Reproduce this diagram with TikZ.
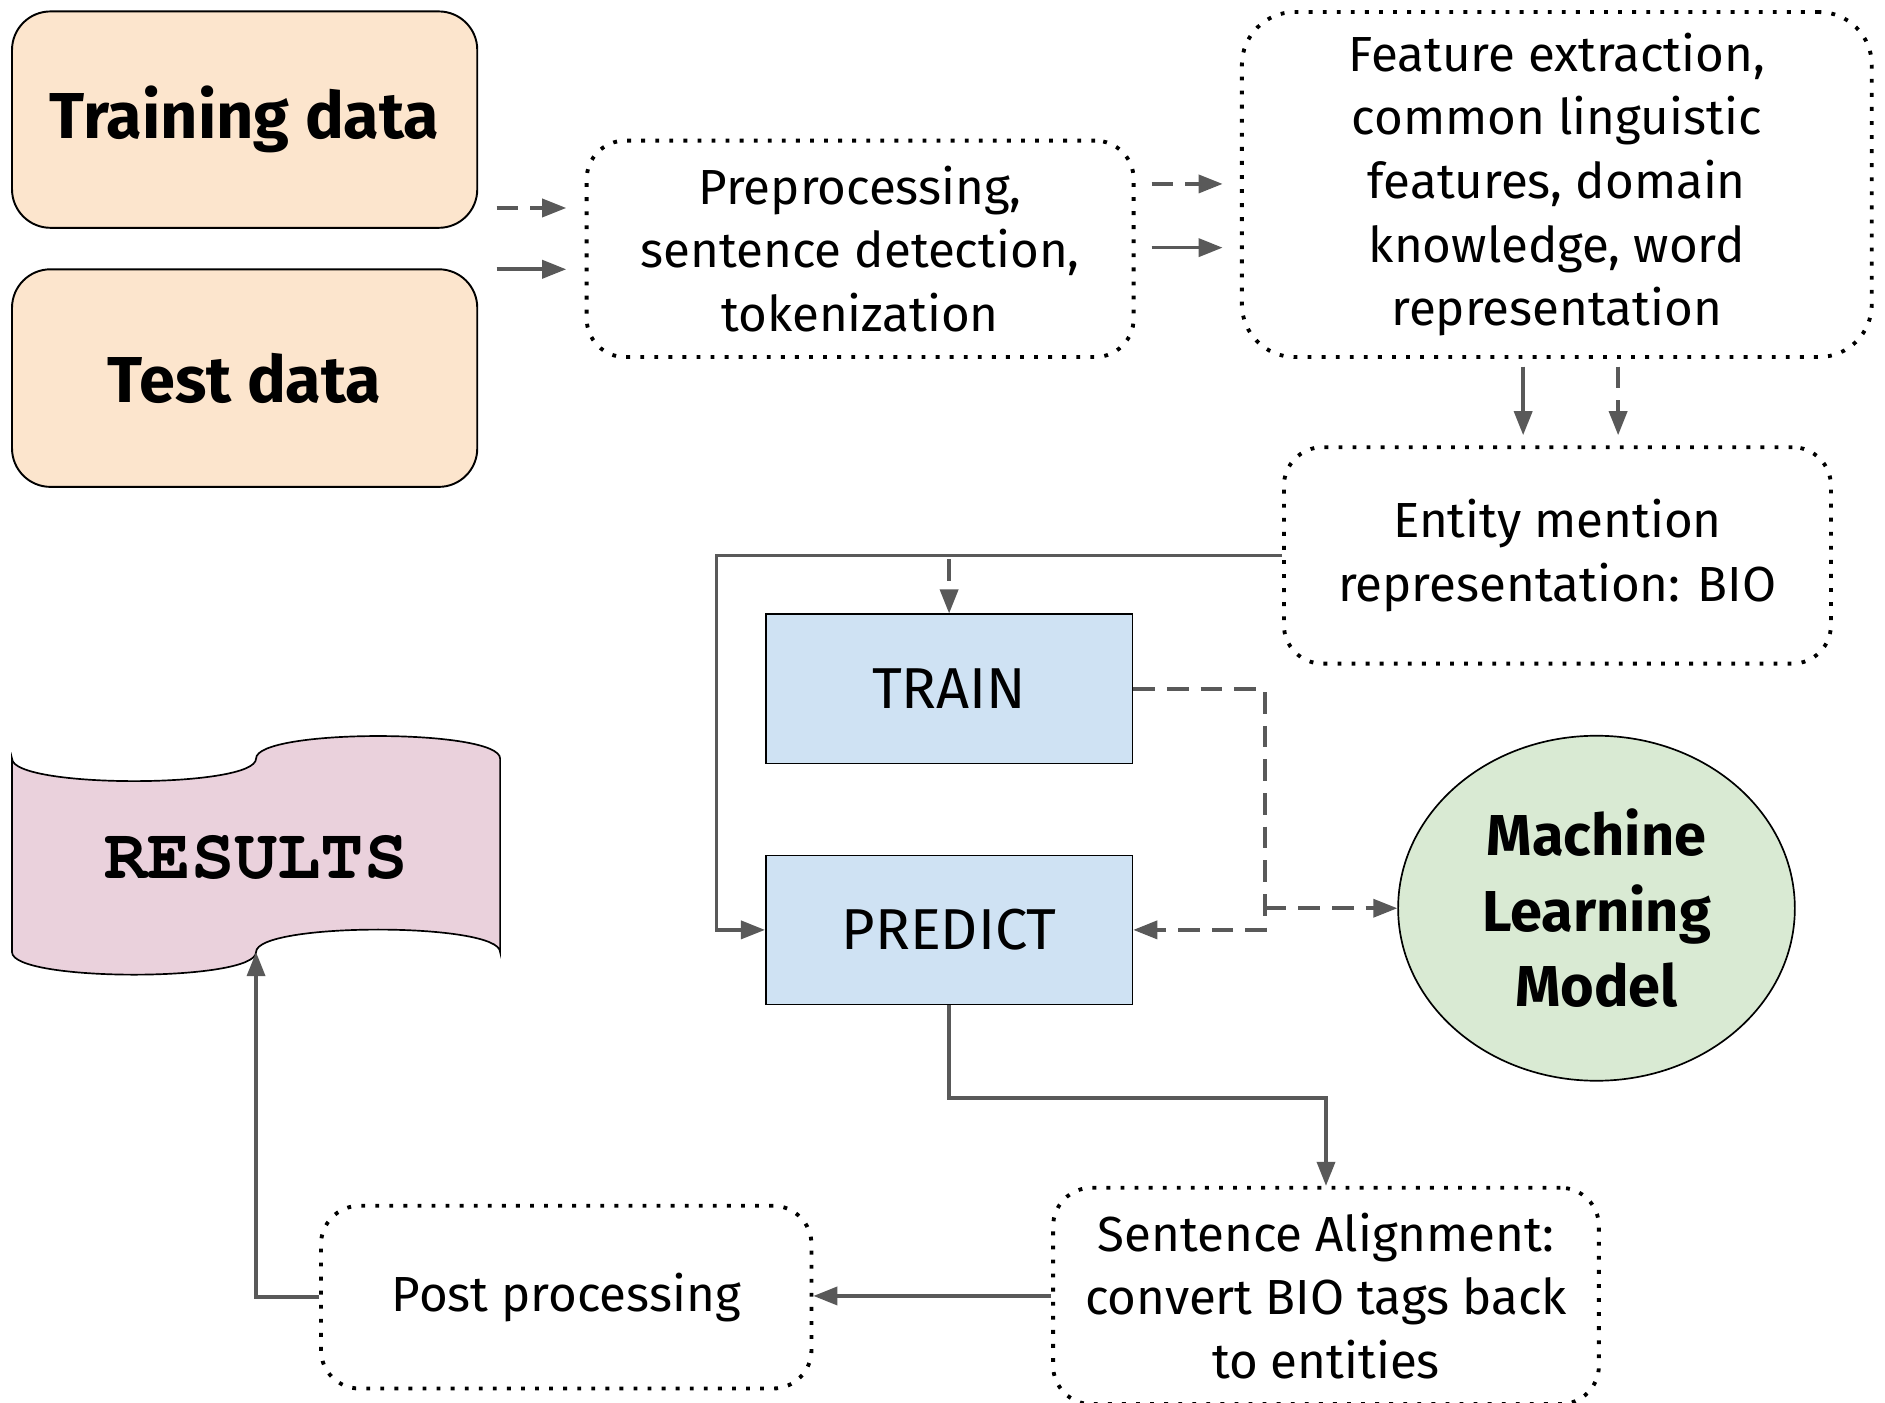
\documentclass[tikz,border=0pt]{standalone}
\usepackage{fontspec}
\setmainfont{Fira Sans}
\newfontfamily\resfont{texgyrecursor-bold.otf}
\usetikzlibrary{arrows.meta,shapes.geometric,calc}
\definecolor{peach}{HTML}{FCE5CD}
\definecolor{lblue}{HTML}{CFE2F3}
\definecolor{lgreen}{HTML}{D9EAD3}
\definecolor{lpink}{HTML}{EAD1DC}
\definecolor{arrowgray}{HTML}{595959}
\tikzset{
  databox/.style={draw=black, line width=0.8pt, fill=peach, rounded corners=16pt,
    minimum width=193.5pt, minimum height=90pt, inner sep=0pt,
    font=\fontsize{27}{32}\selectfont\bfseries},
  dotbox/.style={draw=black, line width=1.6pt, dash pattern=on 1.6pt off 4.25pt,
    rounded corners=16pt, align=center, inner sep=0pt,
    font=\fontsize{20.5}{26.5}\selectfont},
  procbox/.style={draw=black, line width=0.7pt, fill=lblue, minimum width=152.5pt,
    minimum height=62pt, inner sep=0pt, font=\fontsize{24}{28}\selectfont},
  link/.style={draw=arrowgray, line width=1.5pt, -{Triangle[length=10pt,width=7.5pt]}},
  dashline/.style={dash pattern=on 9pt off 5pt},
}
\begin{document}
\begin{tikzpicture}[x=0.5pt,y=-0.5pt]
\useasboundingbox (0,0) rectangle (1568,1167);
\fill[white] (0,0) rectangle (1568,1167);

% nodes
\node[databox] (train) at (203.5,99.5) {Training data};
\node[databox, minimum height=90.5pt] (test) at (203.5,314.5) {Test data};
\node[dotbox, minimum width=227.5pt, minimum height=90pt] (prep) at (715.5,207)
  {Preprocessing,\\sentence detection,\\tokenization};
\node[dotbox, minimum width=262pt, minimum height=143.5pt, rounded corners=22pt] (feat) at (1295,153.5)
  {Feature extraction,\\common linguistic\\features, domain\\knowledge, word\\representation};
\node[dotbox, minimum width=227.5pt, minimum height=90pt] (ent) at (1295.5,462)
  {Entity mention\\representation: BIO};
\node[procbox] (tr) at (789.5,573) {TRAIN};
\node[procbox] (pr) at (789.5,773.5) {PREDICT};
\node[ellipse, draw=black, line width=0.7pt, fill=lgreen, minimum width=165pt,
  minimum height=143.5pt, inner sep=0pt, align=center,
  font=\fontsize{24}{31.5}\selectfont\bfseries] (ml) at (1328,755.5) {Machine\\Learning\\Model};
\node[dotbox, minimum width=227pt, minimum height=90pt] (sent) at (1103,1078)
  {Sentence Alignment:\\convert BIO tags back\\to entities};
\node[dotbox, minimum width=204pt, minimum height=76pt] (post) at (471,1079) {Post processing};

% results tape
\draw[fill=lpink, line width=0.7pt] (10,631) .. controls (10,656) and (213,656) .. (213,631)
  .. controls (213,606) and (416,606) .. (416,631) -- (416,792)
  .. controls (416,767) and (213,767) .. (213,792)
  .. controls (213,817) and (10,817) .. (10,792) -- cycle;
\node[font=\resfont\fontsize{30}{34}\selectfont] (res) at (213,713) {RESULTS};
\coordinate (resb) at (213,792);

% free arrows
\coordinate (a1s) at (413,173); \coordinate (a1e) at (471,173);
\coordinate (a2s) at (413,224); \coordinate (a2e) at (471,224);
\coordinate (b1s) at (958,153); \coordinate (b1e) at (1017,153);
\coordinate (b2s) at (958,206); \coordinate (b2e) at (1017,206);
\coordinate (c1s) at (1267,305); \coordinate (c1e) at (1267,362);
\coordinate (c2s) at (1346,305); \coordinate (c2e) at (1346,362);
\draw[link, dashline] (a1s) -- (a1e);
\draw[link] (a2s) -- (a2e);
\draw[link, dashline] (b1s) -- (b1e);
\draw[link] (b2s) -- (b2e);
\draw[link] (c1s) -- (c1e);
\draw[link, dashline] (c2s) -- (c2e);

% main connectors
\coordinate (jl) at (596,0);
\coordinate (jr) at (1052,0);
\draw[link] (ent.west) -- (ent.west -| jl) |- (pr.west);
\draw[link, dashline] (ent.west) -| (tr.north);
\draw[link, dashline] (tr.east) -| (jr |- pr.east) -- (pr.east);
\draw[link, dashline] (jr |- ml.west) -- (ml.west);
\draw[link] (pr.south) -- ++(0,77) -| (sent.north);
\draw[link] (sent.west) -- (sent.west -| post.east);
\draw[link] (post.west) -| (resb);
\end{tikzpicture}
\end{document}
